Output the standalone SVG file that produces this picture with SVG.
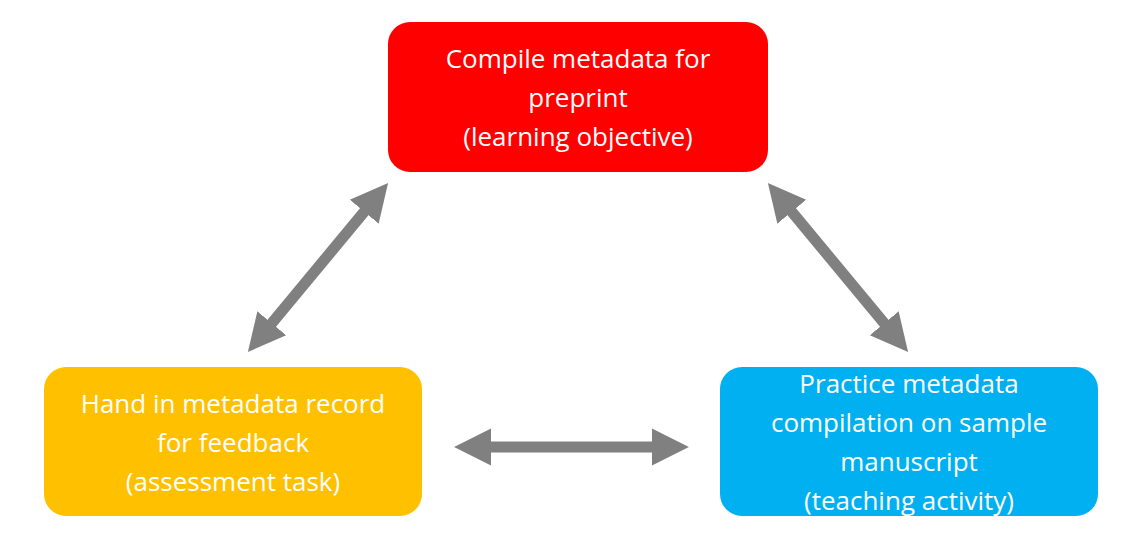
<svg xmlns="http://www.w3.org/2000/svg" width="1144" height="540" viewBox="0 0 1144 540">
<defs>
<style>
.t{font-family:"Open Sans","Liberation Sans",sans-serif;font-size:26px;fill:#fff;text-anchor:middle}
.c{stroke:#808080;stroke-width:11;fill:none;marker-start:url(#h);marker-end:url(#h)}
</style>
<marker id="h" viewBox="0 0 10 10" refX="2" refY="5" markerWidth="3.4" markerHeight="3.6" orient="auto-start-reverse" markerUnits="strokeWidth"><path d="M0,0L10,5L0,10z" fill="#808080"/></marker>
</defs>
<rect width="1144" height="540" fill="#fff"/>
<g id="connectors">
<line class="c" x1="369" y1="206" x2="267" y2="329"/>
<line class="c" x1="787" y1="206" x2="889" y2="329"/>
<line class="c" x1="484" y1="447" x2="659" y2="447"/>
</g>
<g id="n1"><rect x="388" y="22" width="380" height="150" rx="22" fill="#ff0000"/>
<text class="t"><tspan x="578" y="68">Compile metadata for</tspan><tspan x="578" y="107">preprint</tspan><tspan x="578" y="146">(learning objective)</tspan></text></g>
<g id="n2"><rect x="44" y="367" width="378" height="149" rx="22" fill="#ffc000"/>
<text class="t"><tspan x="233" y="413">Hand in metadata record</tspan><tspan x="233" y="452">for feedback</tspan><tspan x="233" y="491">(assessment task)</tspan></text></g>
<g id="n3"><rect x="720" y="367" width="378" height="149" rx="22" fill="#00b0f0"/>
<text class="t"><tspan x="909" y="393">Practice metadata</tspan><tspan x="909" y="432">compilation on sample</tspan><tspan x="909" y="471">manuscript</tspan><tspan x="909" y="510">(teaching activity)</tspan></text></g>
</svg>
